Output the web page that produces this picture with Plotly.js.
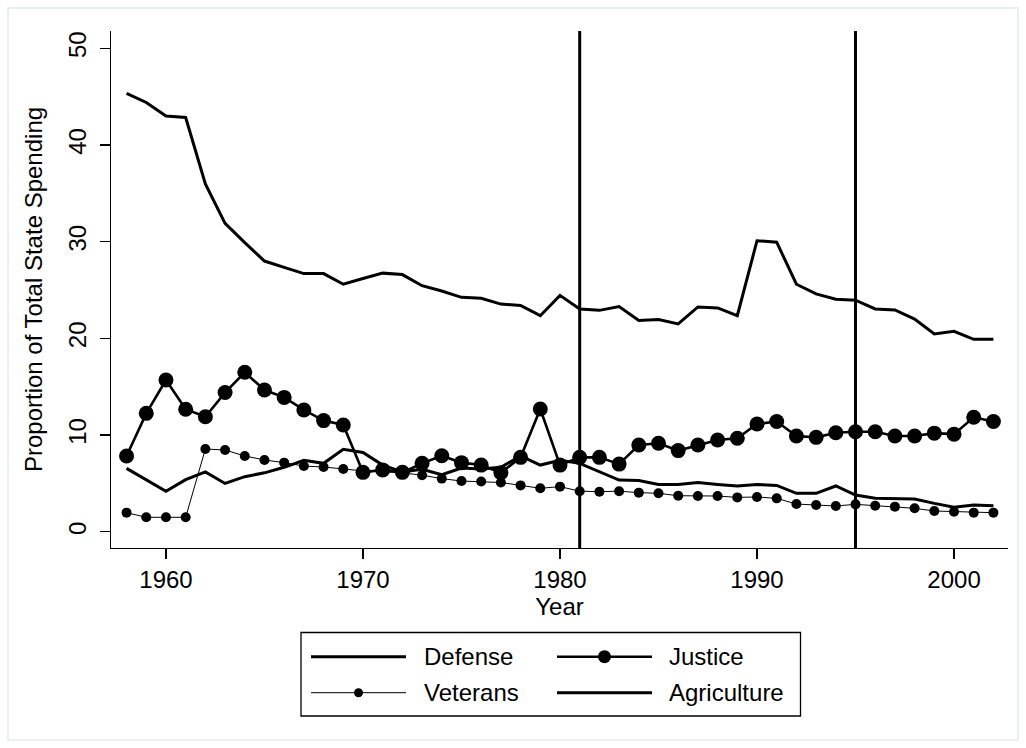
<!DOCTYPE html>
<html>
<head>
<meta charset="utf-8">
<script src="https://cdn.plot.ly/plotly-3.0.1.min.js"></script>
<style>html,body{margin:0;padding:0;background:#fff;}#chart{width:1026px;height:748px;}</style>
</head>
<body>
<div id="chart"></div>
<script>
var years = [1958,1959,1960,1961,1962,1963,1964,1965,1966,1967,1968,1969,1970,1971,1972,1973,1974,1975,1976,1977,1978,1979,1980,1981,1982,1983,1984,1985,1986,1987,1988,1989,1990,1991,1992,1993,1994,1995,1996,1997,1998,1999,2000,2001,2002];
var defense = [45.35,44.4,43.0,42.85,35.97,31.9,29.9,28.0,27.35,26.7,26.7,25.6,26.2,26.75,26.6,25.45,24.9,24.25,24.15,23.55,23.4,22.35,24.45,23.05,22.9,23.3,21.85,21.95,21.5,23.25,23.15,22.35,30.1,29.95,25.6,24.6,24.05,23.95,23.05,22.95,22.0,20.45,20.73,19.9,19.9];
var justice = [7.84,12.25,15.7,12.67,11.9,14.4,16.5,14.66,13.9,12.6,11.5,11.05,6.15,6.4,6.15,7.08,7.87,7.15,6.9,6.1,7.7,12.7,6.9,7.7,7.7,7.0,8.98,9.15,8.4,8.98,9.5,9.67,11.15,11.4,9.9,9.77,10.25,10.35,10.35,9.9,9.9,10.2,10.1,11.84,11.4];
var veterans = [1.98,1.5,1.5,1.5,8.56,8.46,7.84,7.43,7.15,6.8,6.7,6.5,6.3,6.2,6.1,5.85,5.5,5.25,5.2,5.1,4.8,4.5,4.67,4.2,4.15,4.2,4.05,3.98,3.73,3.7,3.7,3.56,3.6,3.46,2.87,2.77,2.67,2.84,2.7,2.6,2.43,2.15,2.08,1.98,1.98];
var agriculture = [6.56,5.4,4.2,5.4,6.2,5.0,5.7,6.1,6.67,7.4,7.08,8.53,8.2,6.9,6.2,6.46,5.9,6.6,6.5,6.67,7.84,6.9,7.4,7.08,6.2,5.35,5.3,4.9,4.9,5.1,4.9,4.74,4.9,4.8,3.98,3.98,4.74,3.8,3.46,3.4,3.4,2.94,2.53,2.77,2.7];
var referenceYears = [1981, 1995];
var yTicks = [0,10,20,30,40,50];
var xTicks = [1960,1970,1980,1990,2000];
var seriesNames = ['Defense','Justice','Veterans','Agriculture'];

var FONT = 'Liberation Sans, Arial, Helvetica, sans-serif';
var traces = [
  {x: years, y: defense, name: seriesNames[0], mode: 'lines', line: {color: '#000', width: 3}, showlegend: false},
  {x: years, y: agriculture, name: seriesNames[3], mode: 'lines', line: {color: '#000', width: 3}, showlegend: false},
  {x: years, y: veterans, name: seriesNames[2], mode: 'lines+markers', line: {color: '#000', width: 1}, marker: {color: '#000', size: 10}, showlegend: false},
  {x: years, y: justice, name: seriesNames[1], mode: 'lines+markers', line: {color: '#000', width: 2.6}, marker: {color: '#000', size: 15}, showlegend: false}
];

// plot area in pixels: left 111, right 1008, top 31, bottom 548
var L = 111, R = 1008, T = 31, B = 548;
function px(p){ return (p - L) / (R - L); }
function py(p){ return (B - p) / (B - T); }

var shapes = [];
referenceYears.forEach(function(yr){
  shapes.push({type: 'line', xref: 'x', yref: 'paper', x0: yr, x1: yr, y0: 0, y1: 1, line: {color: '#000', width: 3}});
});
// outer border
shapes.push({type: 'rect', xref: 'paper', yref: 'paper', x0: px(8), x1: px(1018), y0: py(8), y1: py(740), line: {color: '#e3eaee', width: 1.5}, layer: 'below'});
// legend box
shapes.push({type: 'rect', xref: 'paper', yref: 'paper', x0: px(301), x1: px(800.5), y0: py(632.5), y1: py(716), line: {color: '#000', width: 1.3}});

var annotations = [];
var legendItems = [
  {name: seriesNames[0], lx0: 311, lx1: 406, ly: 656.7, lw: 3, ms: 0, tx: 422},
  {name: seriesNames[1], lx0: 557, lx1: 652, ly: 656.7, lw: 2.6, ms: 13, tx: 667},
  {name: seriesNames[2], lx0: 311, lx1: 406, ly: 692.7, lw: 1, ms: 9, tx: 422},
  {name: seriesNames[3], lx0: 557, lx1: 652, ly: 692.7, lw: 3, ms: 0, tx: 667}
];
legendItems.forEach(function(it){
  shapes.push({type: 'line', xref: 'paper', yref: 'paper', x0: px(it.lx0), x1: px(it.lx1), y0: py(it.ly), y1: py(it.ly), line: {color: '#000', width: it.lw}});
  if (it.ms) {
    var cx = (it.lx0 + it.lx1) / 2;
    shapes.push({type: 'circle', xref: 'paper', yref: 'paper', xsizemode: 'pixel', ysizemode: 'pixel',
      xanchor: px(cx), yanchor: py(it.ly), x0: -it.ms/2, x1: it.ms/2, y0: -it.ms/2, y1: it.ms/2,
      fillcolor: '#000', line: {color: '#000', width: 0}});
  }
  annotations.push({xref: 'paper', yref: 'paper', x: px(it.tx), y: py(it.ly), xanchor: 'left', yanchor: 'middle',
    text: it.name, showarrow: false, font: {family: FONT, size: 24, color: '#000'}});
});

var layout = {
  width: 1026, height: 748,
  margin: {l: L, r: 1026 - R, t: T, b: 748 - B, pad: 0},
  paper_bgcolor: '#fff', plot_bgcolor: '#fff',
  font: {family: FONT, size: 24, color: '#000'},
  showlegend: false,
  xaxis: {
    range: [1957.21, 2002.74], tickvals: xTicks, ticktext: xTicks.map(String),
    ticks: 'outside', ticklen: 10, tickwidth: 1.3, tickcolor: '#000',
    showline: true, linecolor: '#000', linewidth: 1.3, showgrid: false, zeroline: false,
    tickfont: {family: FONT, size: 24, color: '#000'},
    title: {text: 'Year', font: {family: FONT, size: 24, color: '#000'}, standoff: 0}
  },
  yaxis: {
    range: [-1.675, 51.79], tickvals: yTicks, ticktext: yTicks.map(String), tickangle: -90,
    ticks: 'outside', ticklen: 10, tickwidth: 1.3, tickcolor: '#000', ticklabelstandoff: 4,
    showline: true, linecolor: '#000', linewidth: 1.3, showgrid: false, zeroline: false,
    tickfont: {family: FONT, size: 24, color: '#000'},
    title: {text: 'Proportion of Total State Spending', font: {family: FONT, size: 24, color: '#000'}, standoff: 14}
  },
  shapes: shapes,
  annotations: annotations
};
Plotly.newPlot('chart', traces, layout, {staticPlot: true, displayModeBar: false});
</script>
</body>
</html>
